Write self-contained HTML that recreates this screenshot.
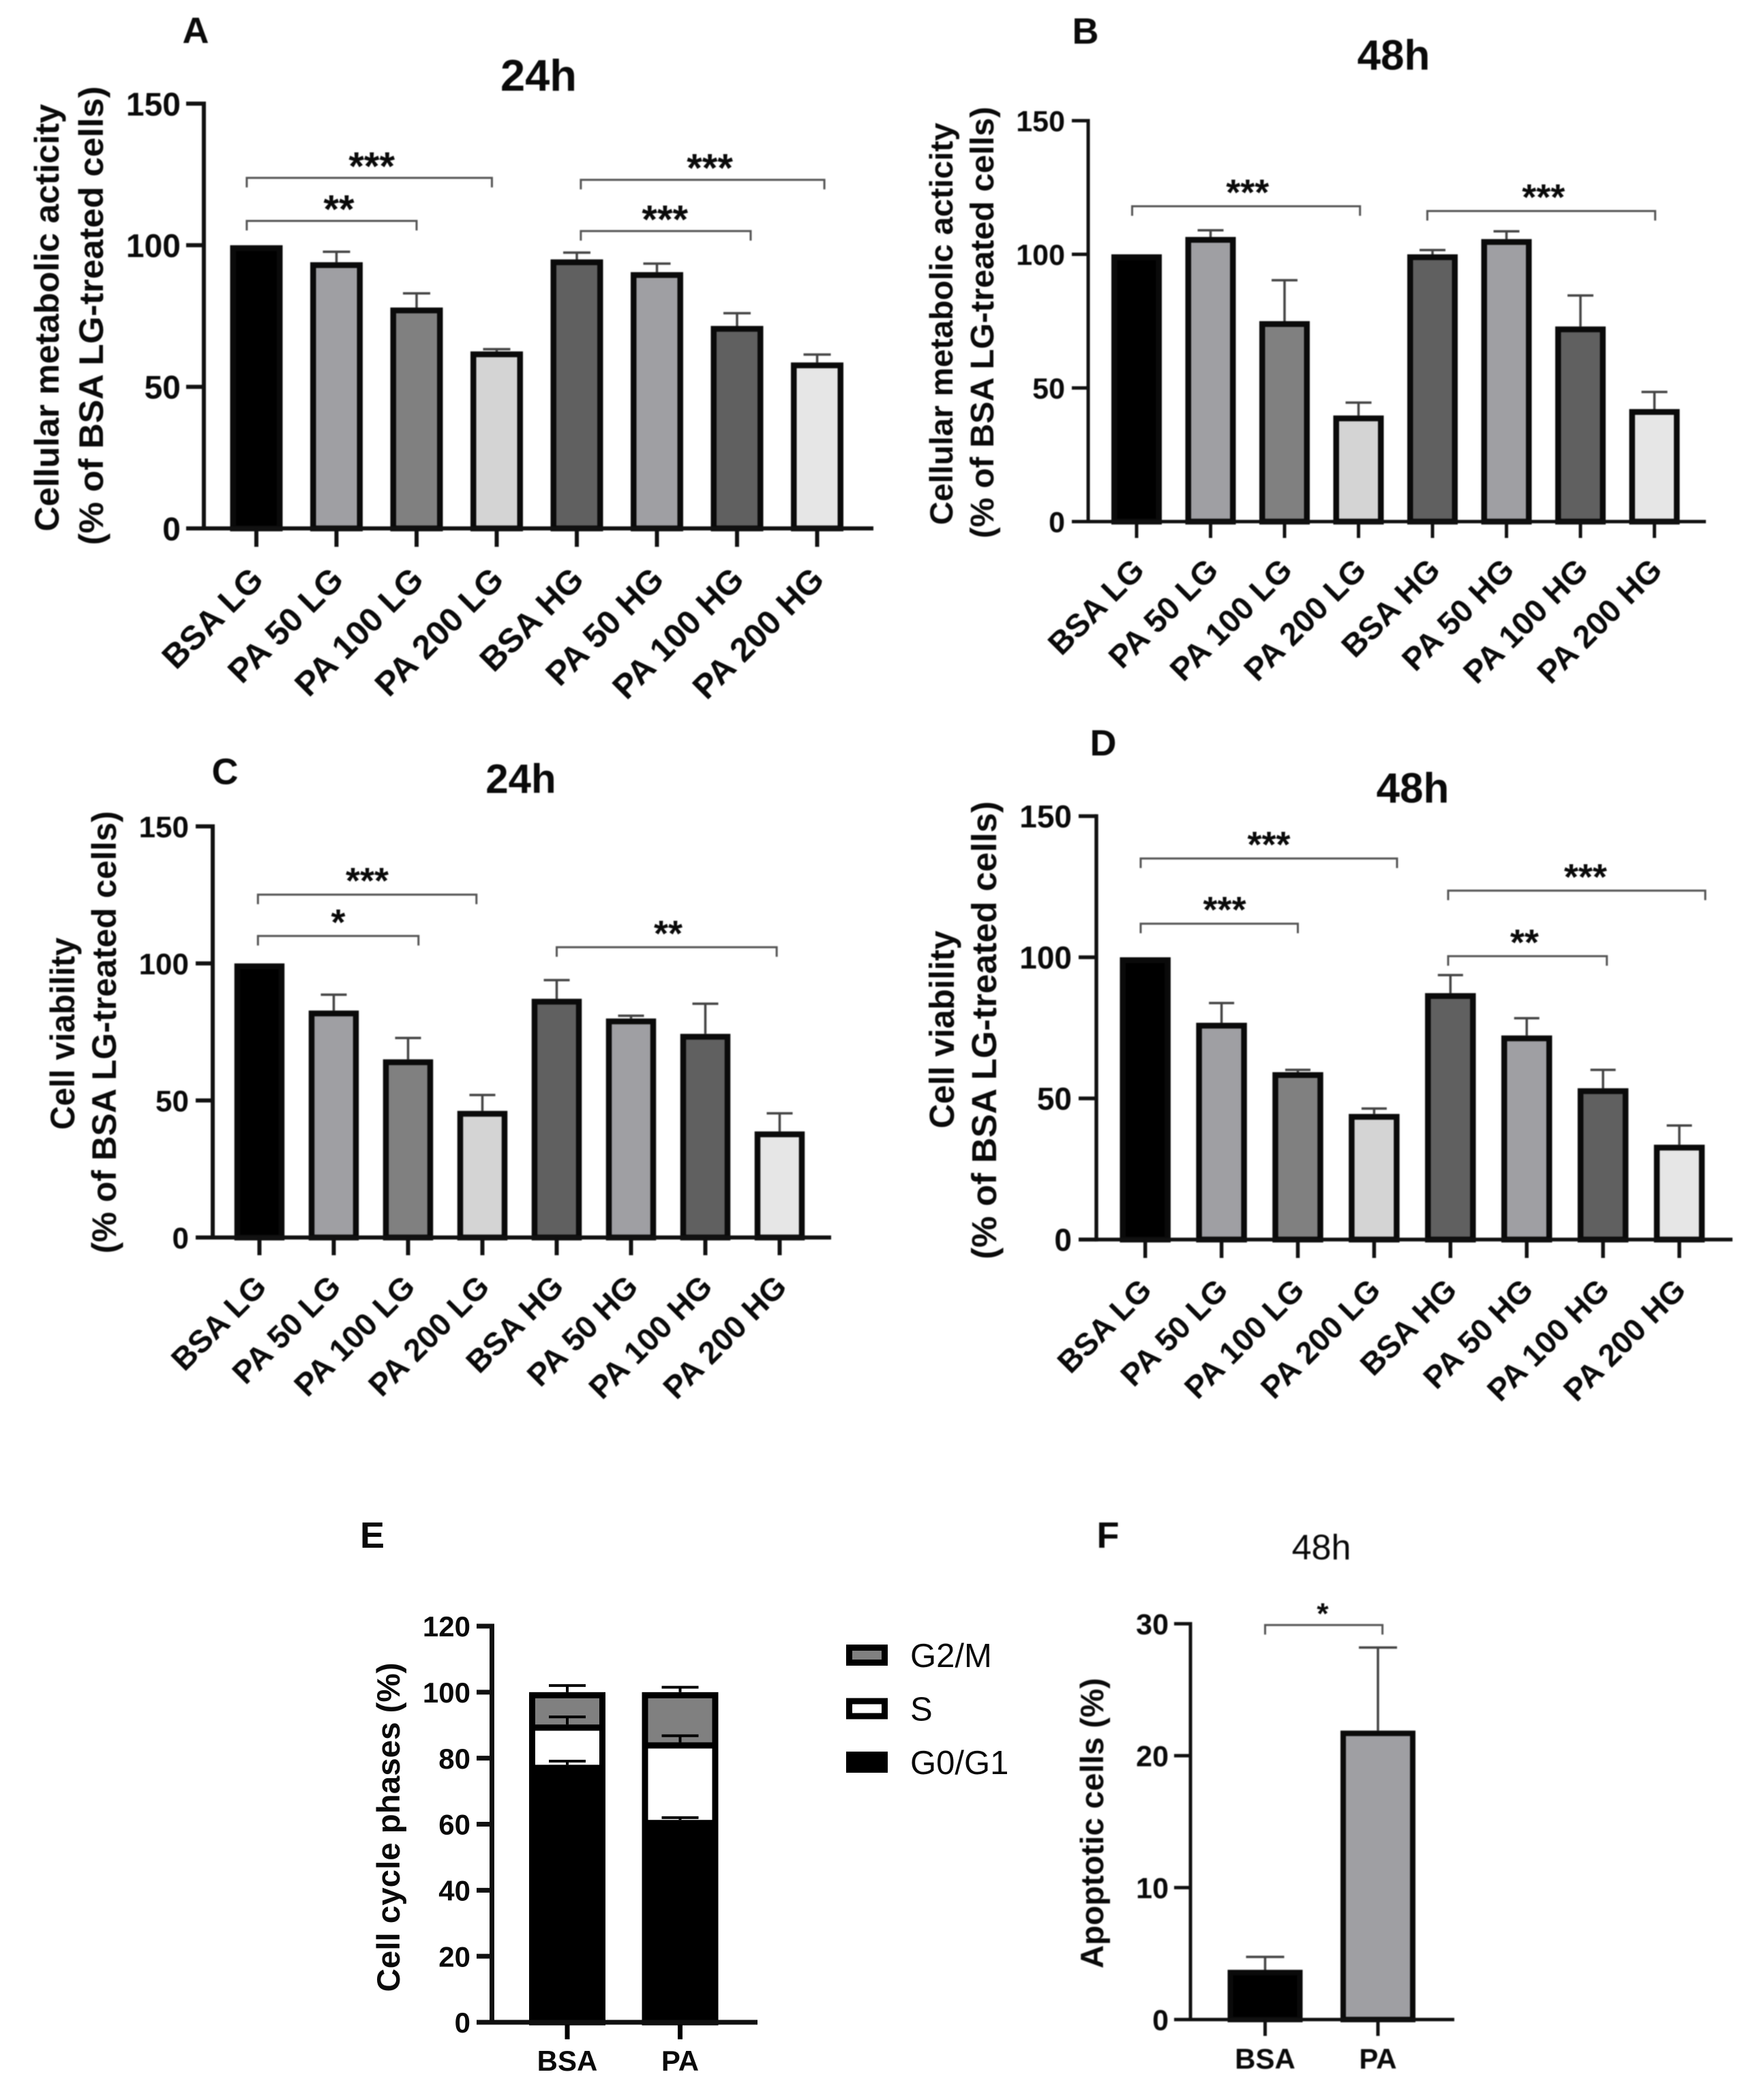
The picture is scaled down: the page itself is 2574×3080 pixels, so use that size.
<!DOCTYPE html>
<html lang="en">
<head>
<meta charset="utf-8">
<title>Cell metabolic activity, viability, cell cycle and apoptosis</title>
<style>
html,body{margin:0;padding:0;background:#fff;}
svg{display:block;}
text{font-family:"Liberation Sans",Arial,sans-serif;fill:#0a0a0a;}
</style>
</head>
<body>
<svg id="figure" xmlns="http://www.w3.org/2000/svg" width="2574" height="3080" viewBox="0 0 2574 3080"></svg>
<script>
/* ---------- data ---------- */
const categories = ['BSA LG','PA 50 LG','PA 100 LG','PA 200 LG','BSA HG','PA 50 HG','PA 100 HG','PA 200 HG'];
const tickLabels150 = [0,50,100,150];

const valuesA = [100,94,78,62.5,95,90.5,71.5,58.6];
const errorTopsA = [null,97.7,83,63.3,97.4,93.5,76,61.4];
const bracketFromA = [-0.12,-0.12,4.05,4.05];
const bracketToA = [2.94,2.0,7.09,6.17];
const bracketLevelA = [123.8,108.6,123.1,105];
const bracketLabelA = ['***','**','***','***'];
const bracketLabelAtA = [1.44,1.03,5.66,5.10];

const valuesB = [100,106.5,75,39.7,100,105.7,73,42.1];
const errorTopsB = [null,109,90.3,44.5,101.6,108.6,84.6,48.5];
const bracketFromB = [-0.06,3.93];
const bracketToB = [3.02,7.01];
const bracketLevelB = [118,116.2];
const bracketLabelB = ['***','***'];
const bracketLabelAtB = [1.50,5.50];

const valuesC = [100,82.8,65,46.2,87.1,79.9,74.3,38.7];
const errorTopsC = [null,88.6,72.8,52,93.9,80.9,85.3,45.3];
const bracketFromC = [-0.02,-0.02,4.0];
const bracketToC = [2.92,2.14,6.96];
const bracketLevelC = [125.1,110,105.9];
const bracketLabelC = ['***','*','**'];
const bracketLabelAtC = [1.45,1.06,5.5];

const valuesD = [100,76.8,59.3,44.5,87.3,72.3,53.6,33.6];
const errorTopsD = [null,83.8,60.1,46.4,93.7,78.4,60.1,40.4];
const bracketFromD = [-0.06,-0.06,3.97,3.97];
const bracketToD = [3.30,2.0,7.34,6.05];
const bracketLevelD = [135,111.9,123.6,100.4];
const bracketLabelD = ['***','***','***','**'];
const bracketLabelAtD = [1.62,1.04,5.77,4.97];

const cycleCategories = ['BSA','PA'];
const cycleTicks = [0,20,40,60,80,100,120];
const cyclePhases = ['G0/G1','S','G2/M'];
const g0g1Values = [78,61.3];
const sValues = [12.2,23.5];
const g2mValues = [9.8,15.2];
const g0g1ErrorTops = [79.1,62];
const sErrorTops = [92.5,86.8];
const g2mErrorTops = [102,101.5];

const apoptosisCategories = ['BSA','PA'];
const apoptosisTicks = [0,10,20,30];
const apoptosisValues = [3.77,21.9];
const apoptosisErrorTops = [4.75,28.2];
const apoptosisBracketFrom = [0];
const apoptosisBracketTo = [1.04];
const apoptosisBracketLevel = [29.9];
const apoptosisBracketLabel = ['*'];
const apoptosisBracketLabelAt = [0.51];

/* ---------- helpers ---------- */
const NS = 'http://www.w3.org/2000/svg';
const root = document.getElementById('figure');
function draw(parent, tag, attrs, content){
  const el = document.createElementNS(NS, tag);
  for (const k in attrs) el.setAttribute(k, attrs[k]);
  if (content !== undefined) el.textContent = content;
  parent.appendChild(el);
  return el;
}
const barFills = ['#000000','#9f9fa3','#808080','#d4d4d4','#606060','#9f9fa3','#606060','#e6e6e6'];

function linearAxis(px0, pxMax, max){
  return function(v){ return px0 - v * (px0 - pxMax) / max; };
}
function bandAxis(first, step){
  return function(i){ return first + i * step; };
}

function panelFrame(p, ticks){
  const g = draw(root, 'g', {});
  
  
  if (p.soft) g.style.filter = 'blur(0.7px)';

  const letter = draw(g, 'text', {x:p.letterX, y:p.letterY, 'font-size':p.letterSize || 54, 'font-weight':'bold', 'text-anchor':'middle'}, p.id.toUpperCase());
  
  

  if (p.title){
    const title = draw(g, 'text', {x:p.titleX, y:p.titleY, 'font-size':p.titleSize, 'font-weight':p.titleWeight || 'bold', 'text-anchor':'middle'}, p.title);
    
    
  }

  p.yTitles.forEach(function(t, n){
    const yt = draw(g, 'text', {
      transform:'translate(' + t.x + ',' + t.cy + ') rotate(-90)',
      'font-size':t.size, 'font-weight':'bold', 'text-anchor':'middle',
      textLength:t.len, lengthAdjust:'spacingAndGlyphs'
    }, t.text);
    
    
  });

  const y = linearAxis(p.y0, p.yTop, p.max);

  ticks.forEach(function(v){
    const tick = draw(g, 'line', {x1:p.xLeft, x2:p.axisX, y1:y(v), y2:y(v), stroke:'#111', 'stroke-width':p.axisW});
    
    
    const label = draw(g, 'text', {x:p.xLeft - p.tickGap, y:y(v) + p.tickSize * 0.36, 'font-size':p.tickSize, 'font-weight':'bold', 'text-anchor':'end'}, String(v));
    
    
  });
  const yAxis = draw(g, 'line', {x1:p.axisX, x2:p.axisX, y1:p.yTop - p.axisW / 2, y2:p.y0 + p.axisW / 2, stroke:'#111', 'stroke-width':p.axisW});
  
  
  return {g:g, y:y};
}

function xAxisLine(g, p){
  const xAxis = draw(g, 'line', {x1:p.xLeft, x2:p.xRight, y1:p.y0, y2:p.y0, stroke:'#111', 'stroke-width':p.axisW});
  
  
}

function drawBrackets(g, p, x, y, from, to, level, label, labelAt){
  level.forEach(function(v, i){
    const yy = y(v);
    const br = draw(g, 'polyline', {
      points:[x(from[i]),yy + p.bracketDrop, x(from[i]),yy, x(to[i]),yy, x(to[i]),yy + p.bracketDrop].join(' '),
      fill:'none', stroke:'#555', 'stroke-width':3
    });
    
    
    const star = draw(g, 'text', {x:x(labelAt[i]), y:yy + p.starDy, 'font-size':p.starSize, 'font-weight':'bold', 'text-anchor':'middle'}, label[i]);
    
    
  });
}

function barPanel(p, values, errorTops, from, to, level, label, labelAt){
  const f = panelFrame(p, tickLabels150);
  const g = f.g, y = f.y;
  const x = bandAxis(p.firstX, p.step);

  values.forEach(function(v, i){
    const xc = x(i);
    if (errorTops[i] !== null){
      const stem = draw(g, 'line', {x1:xc, x2:xc, y1:y(v), y2:y(errorTops[i]), stroke:'#444', 'stroke-width':3.5});
      
      
      const cap = draw(g, 'line', {x1:xc - p.capW / 2, x2:xc + p.capW / 2, y1:y(errorTops[i]), y2:y(errorTops[i]), stroke:'#444', 'stroke-width':3.5});
      
      
    }
    const sw = p.barStroke;
    const bar = draw(g, 'rect', {x:xc - p.barW / 2 + sw / 2, y:y(v) + sw / 2, width:p.barW - sw, height:p.y0 - y(v) - sw / 2, fill:barFills[i], stroke:'#0a0a0a', 'stroke-width':sw});
    
    

    const tick = draw(g, 'line', {x1:xc, x2:xc, y1:p.y0, y2:p.y0 + p.tickLen, stroke:'#111', 'stroke-width':p.axisW});
    
    

    const lx = xc + p.labelDx, ly = p.y0 + p.labelDy;
    const cat = draw(g, 'text', {transform:'translate(' + lx + ',' + ly + ') rotate(-45)', 'font-size':p.labelSize, 'font-weight':'bold', 'text-anchor':'end'}, categories[i]);
    
    
  });
  xAxisLine(g, p);
  drawBrackets(g, p, x, y, from, to, level, label, labelAt);
}

/* ---------- panels A–D ---------- */
barPanel({
  id:'a', soft:true, letterX:287, letterY:63, letterSize:54,
  title:'24h', titleX:790, titleY:133, titleSize:65,
  yTitles:[{text:'Cellular metabolic acticity', x:86, cy:466, size:50, len:627},{text:'(% of BSA LG-treated cells)', x:151, cy:463, size:50, len:673}],
  max:150, y0:775, yTop:152, axisX:299, axisW:6, xLeft:273, xRight:1281, tickGap:8, tickSize:48,
  firstX:376, step:117.5, barW:77, barStroke:8.5, capW:40, tickLen:27,
  labelDx:13, labelDy:78, labelSize:49.5,
  bracketDrop:14, starDy:3, starSize:58
}, valuesA, errorTopsA, bracketFromA, bracketToA, bracketLevelA, bracketLabelA, bracketLabelAtA);

barPanel({
  id:'b', soft:true, letterX:1592, letterY:64, letterSize:54,
  title:'48h', titleX:2044, titleY:102, titleSize:62,
  yTitles:[{text:'Cellular metabolic acticity', x:1397, cy:475, size:47, len:590},{text:'(% of BSA LG-treated cells)', x:1457, cy:473, size:48, len:633}],
  max:150, y0:765, yTop:177, axisX:1596, axisW:5, xLeft:1572, xRight:2502, tickGap:10, tickSize:43,
  firstX:1667, step:108.5, barW:74, barStroke:8.5, capW:38, tickLen:24,
  labelDx:14, labelDy:74, labelSize:47,
  bracketDrop:14, starDy:-2, starSize:54
}, valuesB, errorTopsB, bracketFromB, bracketToB, bracketLevelB, bracketLabelB, bracketLabelAtB);

barPanel({
  id:'c', soft:true, letterX:330, letterY:1150, letterSize:54,
  title:'24h', titleX:764, titleY:1163, titleSize:60,
  yTitles:[{text:'Cell viability', x:109, cy:1516, size:50, len:282},{text:'(% of BSA LG-treated cells)', x:170, cy:1514, size:50, len:649}],
  max:150, y0:1815, yTop:1212, axisX:312, axisW:6, xLeft:287, xRight:1219, tickGap:10, tickSize:44,
  firstX:380.5, step:109, barW:73.5, barStroke:8.5, capW:38, tickLen:26,
  labelDx:13, labelDy:75, labelSize:46.5,
  bracketDrop:14, starDy:-2, starSize:54
}, valuesC, errorTopsC, bracketFromC, bracketToC, bracketLevelC, bracketLabelC, bracketLabelAtC);

barPanel({
  id:'d', soft:true, letterX:1618, letterY:1108, letterSize:54,
  title:'48h', titleX:2072, titleY:1177, titleSize:62,
  yTitles:[{text:'Cell viability', x:1399, cy:1510, size:51, len:290},{text:'(% of BSA LG-treated cells)', x:1461, cy:1511, size:51, len:672}],
  max:150, y0:1818, yTop:1197, axisX:1608, axisW:5.5, xLeft:1582, xRight:2541, tickGap:10, tickSize:46,
  firstX:1679.7, step:111.9, barW:74.5, barStroke:8.5, capW:37, tickLen:27,
  labelDx:12, labelDy:77, labelSize:46,
  bracketDrop:14, starDy:-2, starSize:54
}, valuesD, errorTopsD, bracketFromD, bracketToD, bracketLevelD, bracketLabelD, bracketLabelAtD);

/* ---------- panel E: stacked bars ---------- */
(function(){
  const p = {
    id:'e', letterX:546, letterY:2270, letterSize:54,
    yTitles:[{text:'Cell cycle phases (%)', x:586, cy:2680, size:47, len:483}],
    max:120, y0:2966, yTop:2385, axisX:721.5, axisW:7, xLeft:699, xRight:1111, tickGap:9, tickSize:42,
    firstX:832, step:165.5, barW:112, barStroke:9, tickLen:25
  };
  const f = panelFrame(p, cycleTicks);
  const g = f.g, y = f.y;
  const x = bandAxis(p.firstX, p.step);
  const phaseFills = ['#000000','#ffffff','#808080'];
  const phaseValues = [g0g1Values, sValues, g2mValues];
  const phaseErrors = [g0g1ErrorTops, sErrorTops, g2mErrorTops];

  cycleCategories.forEach(function(c, i){
    const xc = x(i);
    let base = 0;
    phaseValues.forEach(function(series, k){
      const top = base + series[i];
      const sw = p.barStroke;
      const seg = draw(g, 'rect', {x:xc - p.barW / 2 + sw / 2, y:y(top) + sw / 2, width:p.barW - sw, height:y(base) - y(top) - (k === 0 ? sw / 2 : 0), fill:phaseFills[k], stroke:'#000', 'stroke-width':sw});
      
      
      base = top;
    });
    base = 0;
    phaseValues.forEach(function(series, k){
      const top = base + series[i];
      const err = phaseErrors[k][i];
      const stem = draw(g, 'line', {x1:xc, x2:xc, y1:y(top), y2:y(err), stroke:'#000', 'stroke-width':4});
      
      
      const cap = draw(g, 'line', {x1:xc - 27, x2:xc + 27, y1:y(err), y2:y(err), stroke:'#000', 'stroke-width':4});
      
      
      base = top;
    });
    const tick = draw(g, 'line', {x1:xc, x2:xc, y1:p.y0, y2:p.y0 + p.tickLen, stroke:'#000', 'stroke-width':p.axisW});
    
    
    const lab = draw(g, 'text', {x:xc, y:3037, 'font-size':42, 'font-weight':'bold', 'text-anchor':'middle'}, c);
    
    
  });
  xAxisLine(g, p);

  const legendOrder = [2,1,0];
  legendOrder.forEach(function(k, n){
    const top = 2412 + n * 78.5;
    const sw = draw(g, 'rect', {x:1245.5, y:top + 4.5, width:52, height:22, fill:phaseFills[k], stroke:'#000', 'stroke-width':9});
    
    
    const t = draw(g, 'text', {x:1335, y:top + 33, 'font-size':49}, cyclePhases[k]);
    
    
  });
})();

/* ---------- panel F ---------- */
(function(){
  const p = {
    id:'f', soft:true, letterX:1625, letterY:2270, letterSize:54,
    title:'48h', titleX:1938, titleY:2287, titleSize:52, titleWeight:'normal',
    yTitles:[{text:'Apoptotic cells (%)', x:1618, cy:2674, size:47, len:426}],
    max:30, y0:2962, yTop:2381.5, axisX:1746, axisW:5, xLeft:1722, xRight:2133, tickGap:8, tickSize:43,
    firstX:1855.5, step:165.5, barW:110, barStroke:8, tickLen:24,
    bracketDrop:14, starDy:-2, starSize:44
  };
  const f = panelFrame(p, apoptosisTicks);
  const g = f.g, y = f.y;
  const x = bandAxis(p.firstX, p.step);
  apoptosisCategories.forEach(function(c, i){
    const xc = x(i);
    const stem = draw(g, 'line', {x1:xc, x2:xc, y1:y(apoptosisValues[i]), y2:y(apoptosisErrorTops[i]), stroke:'#444', 'stroke-width':3.5});
    
    
    const cap = draw(g, 'line', {x1:xc - 28, x2:xc + 28, y1:y(apoptosisErrorTops[i]), y2:y(apoptosisErrorTops[i]), stroke:'#444', 'stroke-width':3.5});
    
    
    const bar = draw(g, 'rect', {x:xc - p.barW / 2 + p.barStroke / 2, y:y(apoptosisValues[i]) + p.barStroke / 2, width:p.barW - p.barStroke, height:p.y0 - y(apoptosisValues[i]) - p.barStroke / 2, fill:barFills[i], stroke:'#0a0a0a', 'stroke-width':p.barStroke});
    
    
    const tick = draw(g, 'line', {x1:xc, x2:xc, y1:p.y0, y2:p.y0 + p.tickLen, stroke:'#111', 'stroke-width':p.axisW});
    
    
    const lab = draw(g, 'text', {x:xc, y:3034, 'font-size':42, 'font-weight':'bold', 'text-anchor':'middle'}, c);
    
    
  });
  xAxisLine(g, p);
  drawBrackets(g, p, x, y, apoptosisBracketFrom, apoptosisBracketTo, apoptosisBracketLevel, apoptosisBracketLabel, apoptosisBracketLabelAt);
})();
</script>
</body>
</html>
